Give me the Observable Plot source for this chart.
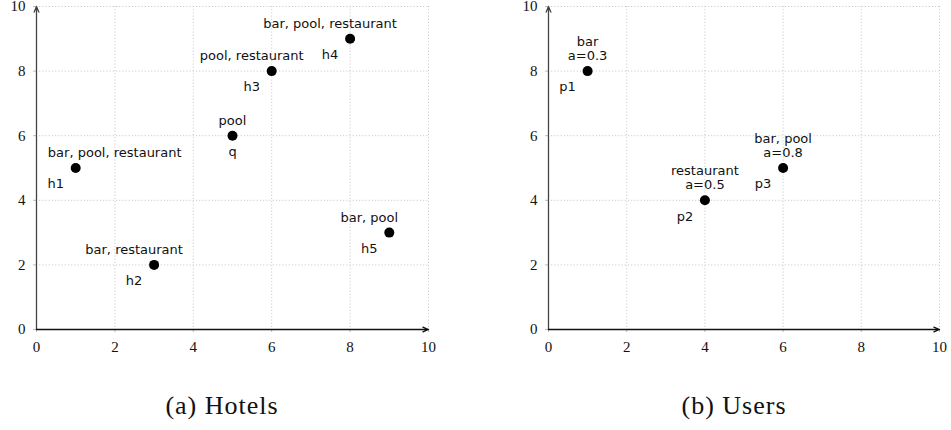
<!DOCTYPE html>
<html>
<head>
<meta charset="utf-8">
<script src="https://cdn.jsdelivr.net/npm/d3@7"></script>
<script src="https://cdn.jsdelivr.net/npm/@observablehq/plot@0.6"></script>
<style>
  body { margin: 0; background: #fff; width: 951px; height: 430px; position: relative; overflow: hidden; }
  #left { position: absolute; left: 0; top: 0; }
  #right { position: absolute; left: 475px; top: 0; }
  .cap { position: absolute; top: 393px; width: 300px; text-align: center;
         font-family: "Liberation Serif", serif; font-size: 26px; line-height: 26px;
         letter-spacing: 1px; color: #111; }
  svg { overflow: visible; }
  svg g[aria-label*="axis"], svg g[aria-label*="axis"] text {
    font-family: "Liberation Serif", serif !important; font-size: 15px !important; }
</style>
</head>
<body>
<div id="left"></div>
<div id="right"></div>
<div class="cap" style="left:72px">(a) Hotels</div>
<div class="cap" style="left:584px">(b) Users</div>
<script>
// ---- data ----
const hotelIds = ["h1", "h2", "h3", "h4", "h5", "q"];
const hotelX = [1, 3, 6, 8, 9, 5];
const hotelY = [5, 2, 8, 9, 3, 6];
const hotelFeatures = ["bar, pool, restaurant", "bar, restaurant", "pool, restaurant", "bar, pool, restaurant", "bar, pool", "pool"];

const userIds = ["p1", "p2", "p3"];
const userX = [1, 4, 6];
const userY = [8, 4, 5];
const userFeatures = ["bar", "restaurant", "bar, pool"];
const userA = [0.3, 0.5, 0.8];

const axisDomain = [0, 10];
const tickValues = [0, 2, 4, 6, 8, 10];
const gridValues = [2, 4, 6, 8, 10];

// ---- tables ----
const hotels = hotelIds.map((id, i) => ({id, x: hotelX[i], y: hotelY[i], label: hotelFeatures[i]}));
const users = userIds.map((id, i) => ({id, x: userX[i], y: userY[i], label: `${userFeatures[i]}\na=${userA[i]}`}));

// ---- layout (label placement, in pixels) ----
const hotelFeatureShift = {h1: 39, q: 0};
const hotelIdShift = {q: 0};
const userFeatureShift = {};
const userIdShift = {};

function panel(points, featureShift, idShift, defaultFeatureShift, {width, marginLeft, marginRight}) {
  const labelFont = {fontFamily: "'DejaVu Sans', sans-serif", fontSize: 13, fill: "#111"};
  const tickFont = {fontFamily: "'Liberation Serif', serif", fontSize: 15};
  return Plot.plot({
    width, height: 360,
    marginLeft, marginRight, marginTop: 6, marginBottom: 31,
    style: {background: "white", color: "#111"},
    x: {domain: axisDomain},
    y: {domain: axisDomain},
    marks: [
      Plot.gridX(gridValues, {stroke: "#c4c4c4", strokeOpacity: 1, strokeDasharray: "1,2.2"}),
      Plot.gridY(gridValues, {stroke: "#c4c4c4", strokeOpacity: 1, strokeDasharray: "1,2.2"}),
      Plot.axisX({ticks: tickValues, tickSize: 3, tickPadding: 9, stroke: "#bbb", fill: "#111", label: null, tickFormat: d => String(d), ...tickFont}),
      Plot.axisY({ticks: tickValues, tickSize: 3, tickPadding: 8, stroke: "#bbb", fill: "#111", label: null, tickFormat: d => String(d), ...tickFont}),
      Plot.arrow([0], {x1: axisDomain[0], y1: axisDomain[0], x2: axisDomain[0], y2: axisDomain[1], stroke: "#444", strokeWidth: 1.3, headLength: 7, headAngle: 45}),
      Plot.arrow([0], {x1: axisDomain[0], y1: axisDomain[0], x2: axisDomain[1], y2: axisDomain[0], stroke: "#111", strokeWidth: 1.3, headLength: 7, headAngle: 45}),
      Plot.dot(points, {x: "x", y: "y", r: 5, fill: "black", stroke: null}),
      ...points.map(d => Plot.text([d], {x: "x", y: "y", text: "label", lineAnchor: "bottom", lineHeight: 1.1, dy: -11,
        dx: featureShift[d.id] ?? defaultFeatureShift, ...labelFont})),
      ...points.map(d => Plot.text([d], {x: "x", y: "y", text: "id", lineAnchor: "top", dy: 11,
        dx: idShift[d.id] ?? -20, ...labelFont}))
    ]
  });
}

document.getElementById("left").append(panel(hotels, hotelFeatureShift, hotelIdShift, -20, {width: 475, marginLeft: 36, marginRight: 47}));
document.getElementById("right").append(panel(users, userFeatureShift, userIdShift, 0, {width: 476, marginLeft: 73, marginRight: 12}));
</script>
</body>
</html>
